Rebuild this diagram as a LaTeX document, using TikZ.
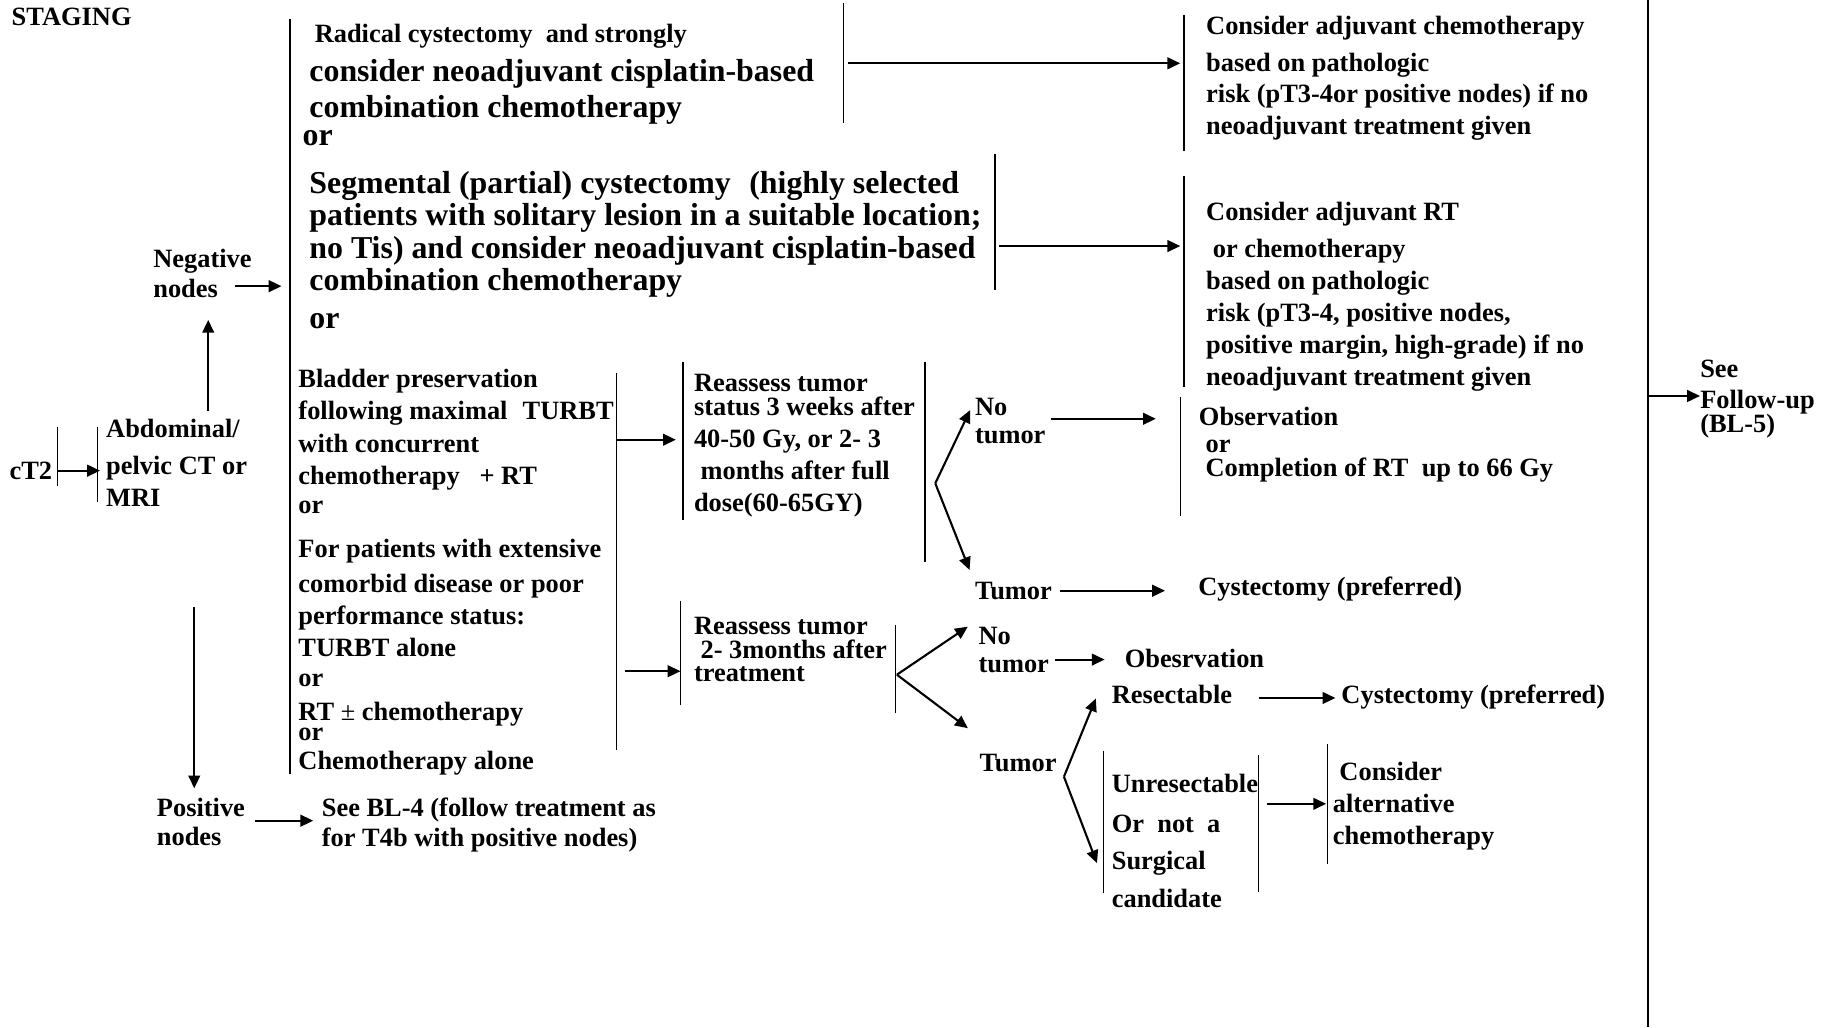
\documentclass[tikz,border=0pt]{standalone}
\usepackage{fontspec}
\setmainfont{Liberation Serif}
\usetikzlibrary{arrows.meta}

\tikzset{
  txt/.style={anchor=north west, inner sep=0pt, align=left,
    font=\fontsize{22.7}{#1}\selectfont\bfseries},
  txt/.default=27.4,
  bigtxt/.style={anchor=north west, inner sep=0pt, align=left,
    font=\fontsize{27.4}{#1}\selectfont\bfseries},
  bigtxt/.default=30.9,
  bar/.style={line width=1.3pt},
  arr/.style={line width=1.8pt, -{Triangle[length=11pt,width=10pt]}},
}

\begin{document}
\begin{tikzpicture}[x=1pt,y=-1pt]
\useasboundingbox (0,0) rectangle (1568,883);

% texts
\node[txt, anchor=base west] (stg) at (9.9,21.8) {STAGING};
\node[txt, anchor=base west] (ct2) at (8,411.8) {cT2};
\node[txt=27.3] (abd) at (91.1,360.4) {Abdominal/\\[4.2pt]pelvic CT or\\MRI};
\node[txt=25.8] (neg) at (131.6,214.2) {Negative\\nodes};
\node[txt=25.5] (pos) at (134.7,685.6) {Positive\\nodes};
\node[txt=26] (bl4) at (276.5,685.6) {See BL-4 (follow treatment as\\for T4b with positive nodes)};

\node[txt, anchor=base west] (radA) at (270.4,36.2) {Radical cystectomy\ \ and strongly};
\node[bigtxt] (radB) at (265.8,50.7) {consider neoadjuvant cisplatin-based\\combination chemotherapy};
\node[bigtxt, anchor=base west] (radC) at (259.9,125.2) {or};
\node[bigtxt=28] (seg) at (265.8,146.7) {Segmental (partial) cystectomy\hspace{16pt}(highly selected\\patients with solitary lesion in a suitable location;\\no Tis) and consider neoadjuvant cisplatin-based\\combination chemotherapy\\[4.1pt]or};
\node[txt] (blad) at (256.4,317.4) {Bladder preservation\\following maximal\hspace{13pt}TURBT\\[0.6pt]with concurrent\\chemotherapy\hspace{17pt}+ RT\\[-2.4pt]or\\[10.7pt]For patients with extensive\\[2.7pt]comorbid disease or poor\\performance status:\\TURBT alone\\[-1.1pt]or\\[1.3pt]RT {\mdseries ±} chemotherapy\\[-10.2pt]or\\[-2.1pt]Chemotherapy alone};

\node[txt=27.3] (adjC) at (1036.7,13.7) {Consider adjuvant chemotherapy\\[4.2pt]based on pathologic\\risk (pT3-4or positive nodes) if no\\neoadjuvant treatment given};
\node[txt] (adjR) at (1036.7,173.2) {Consider adjuvant RT\\[5pt]\ or chemotherapy\\based on pathologic\\risk (pT3-4, positive nodes,\\positive margin, high-grade) if no\\neoadjuvant treatment given};

\node[txt=27.7] (reas1) at (596.4,321.7) {Reassess tumor\\[-7.6pt]status 3 weeks after\\40-50 Gy, or 2- 3\\\ months after full\\dose(60-65GY)};
\node[txt=20.4] (reas2) at (596.4,530.2) {Reassess tumor\\\ 2- 3months after\\treatment};

\node[txt=24] (not1) at (838,341.8) {No\\tumor};
\node[txt=21.5] (obs) at (1030.5,349.9) {Observation\\[2pt]\ or\\[-1.2pt]\ Completion of RT\ \ up to 66 Gy};
\node[txt, anchor=base west] (tum1) at (838,515.6) {Tumor};
\node[txt, anchor=base west] (cys1) at (1030,511.8) {Cystectomy (preferred)};

\node[txt=23.7] (not2) at (841,539.2) {No\\tumor};
\node[txt, anchor=base west] (obsv) at (966.7,573.5) {Obesrvation};
\node[txt, anchor=base west] (resc) at (955.6,605) {Resectable};
\node[txt, anchor=base west] (cys2) at (1153,604.5) {Cystectomy (preferred)};
\node[txt, anchor=base west] (tum2) at (842,663.5) {Tumor};
\node[txt=32] (unres) at (955.6,665.2) {Unresectable\\[2.7pt]Or\ \ not\ \ a\\Surgical\\candidate};
\node[txt=27.7] (alt) at (1145.6,654.7) {\ Consider\\alternative\\chemotherapy};

\node[txt=26.4] (fol) at (1461.4,309.7) {See\\Follow-up\\[-6pt](BL-5)};

% bars
\foreach \x/\ya/\yb in {49.3/366.8/417.8, 84/366.8/431.3, 249.3/16/665,
    725/3/106, 855.4/132.4/249.3, 1018/13/129.5, 1018/151.3/332.4,
    530/321/645, 587/311/447, 795/311/483, 1015/341/444,
    585/517/606, 770/537.3/613, 948.7/646/768, 1082/649/766.5,
    1141/639.6/742.7, 1416.5/0/883}
  \draw[bar] (\x,\ya) -- (\x,\yb);

% arrow ends
\coordinate (ct2o) at (49.3,404.6);  \coordinate (ct2i) at (86,404.6);
\coordinate (upo) at (179,353);      \coordinate (upi) at (179,275);
\coordinate (nego) at (202,246);     \coordinate (negi) at (242,246);
\coordinate (dno) at (167,522);      \coordinate (dni) at (167,677.7);
\coordinate (poso) at (219.2,705.5); \coordinate (posi) at (269.3,705.5);
\coordinate (rado) at (729,54.4);    \coordinate (radi) at (1014.6,54.4);
\coordinate (sego) at (859,211.5);   \coordinate (segi) at (1014.6,211.5);
\coordinate (bpo) at (530,378);      \coordinate (bpi) at (581,378);
\coordinate (alo) at (537,577);      \coordinate (ali) at (585,577);
\coordinate (fk1) at (804,415.5);
\coordinate (fk1u) at (834,352.5);   \coordinate (fk1d) at (833.5,490);
\coordinate (nt1o) at (903.6,360);   \coordinate (nt1i) at (993.6,360);
\coordinate (t1o) at (911,507.8);    \coordinate (t1i) at (1001.5,507.8);
\coordinate (fk2) at (771,580);
\coordinate (fk2u) at (832,538.7);   \coordinate (fk2d) at (832,626);
\coordinate (nt2o) at (907,567);     \coordinate (nt2i) at (949.6,567);
\coordinate (fk3) at (914.6,667.7);
\coordinate (fk3u) at (942,600.5);   \coordinate (fk3d) at (943,742);
\coordinate (rso) at (1082,600);     \coordinate (rsi) at (1148,600);
\coordinate (uro) at (1089,691);     \coordinate (uri) at (1140,691);
\coordinate (fuo) at (1416.5,340.4); \coordinate (fui) at (1461.4,340.4);

% arrows
\draw[arr] (ct2o) -- (ct2i);
\draw[arr] (upo) -- (upi);
\draw[arr] (nego) -- (negi);
\draw[arr] (dno) -- (dni);
\draw[arr] (poso) -- (posi);
\draw[arr] (rado) -- (radi);
\draw[arr] (sego) -- (segi);
\draw[arr] (bpo) -- (bpi);
\draw[arr] (alo) -- (ali);
\draw[arr] (fk1) -- (fk1u);
\draw[arr] (fk1) -- (fk1d);
\draw[arr] (nt1o) -- (nt1i);
\draw[arr] (t1o) -- (t1i);
\draw[arr] (fk2) -- (fk2u);
\draw[arr] (fk2) -- (fk2d);
\draw[arr] (nt2o) -- (nt2i);
\draw[arr] (fk3) -- (fk3u);
\draw[arr] (fk3) -- (fk3d);
\draw[arr] (rso) -- (rsi);
\draw[arr] (uro) -- (uri);
\draw[arr] (fuo) -- (fui);
\end{tikzpicture}
\end{document}
